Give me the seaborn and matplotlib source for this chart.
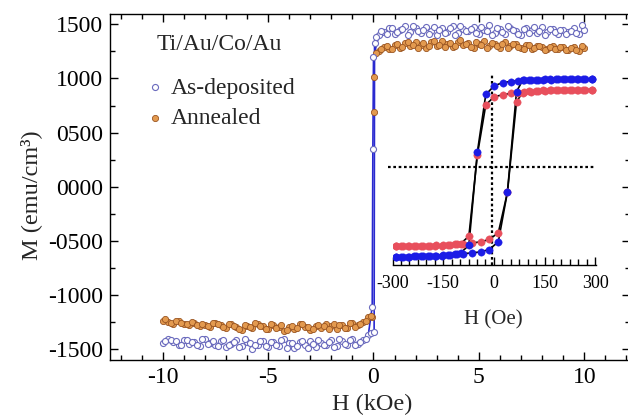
import matplotlib
matplotlib.use("Agg")
import matplotlib.pyplot as plt
from matplotlib.ticker import MultipleLocator, FuncFormatter
import pandas as pd
import seaborn as sns

# main loop, saturated branches (kOe), two passes per side
H_SAT_A = [0.25, 0.50, 0.75, 1.00, 1.25, 1.50, 1.75, 2.00, 2.25, 2.50,
           2.75, 3.00, 3.25, 3.50, 3.75, 4.00, 4.25, 4.50, 4.75, 5.00,
           5.25, 5.50, 5.75, 6.00, 6.25, 6.50, 6.75, 7.00, 7.25, 7.50,
           7.75, 8.00, 8.25, 8.50, 8.75, 9.00, 9.25, 9.50, 9.75, 10.00]
H_SAT_B = [0.12, 0.37, 0.62, 0.87, 1.12, 1.37, 1.62, 1.87, 2.12, 2.37,
           2.62, 2.87, 3.12, 3.37, 3.62, 3.87, 4.12, 4.37, 4.62, 4.87,
           5.12, 5.37, 5.62, 5.87, 6.12, 6.37, 6.62, 6.87, 7.12, 7.37,
           7.62, 7.87, 8.12, 8.37, 8.62, 8.87, 9.12, 9.37, 9.62, 9.87]

AD_POS_A = [1398, 1425, 1462, 1410, 1447, 1481, 1433, 1465, 1419, 1476,
            1441, 1402, 1468, 1430, 1485, 1417, 1459, 1437, 1472, 1408,
            1450, 1489, 1424, 1456, 1413, 1470, 1438, 1401, 1466, 1444,
            1420, 1478, 1432, 1461, 1407, 1452, 1426, 1469, 1415, 1446]
AD_POS_B = [1385, 1441, 1415, 1470, 1428, 1459, 1404, 1483, 1436, 1452,
            1412, 1475, 1447, 1421, 1463, 1399, 1480, 1434, 1455, 1416,
            1471, 1440, 1405, 1466, 1429, 1487, 1443, 1411, 1458, 1423,
            1474, 1436, 1403, 1461, 1427, 1449, 1414, 1435, 1421, 1492]
AD_NEG_A = [-1372, -1418, -1451, -1403, -1466, -1428, -1474, -1412, -1457, -1439,
            -1482, -1420, -1463, -1431, -1488, -1445, -1409, -1470, -1436, -1478,
            -1422, -1461, -1497, -1433, -1468, -1415, -1452, -1484, -1427, -1460,
            -1441, -1405, -1473, -1430, -1456, -1414, -1465, -1438, -1402, -1447]
AD_NEG_B = [-1355, -1402, -1436, -1462, -1419, -1448, -1407, -1476, -1430, -1465,
            -1411, -1454, -1486, -1425, -1469, -1440, -1493, -1417, -1458, -1434,
            -1472, -1421, -1463, -1444, -1409, -1479, -1432, -1457, -1415, -1470,
            -1426, -1451, -1404, -1466, -1437, -1418, -1459, -1428, -1412, -1420]

AN_POS_A = [1252, 1288, 1271, 1305, 1284, 1327, 1296, 1340, 1310, 1285,
            1336, 1302, 1348, 1315, 1291, 1339, 1306, 1329, 1281, 1322,
            1345, 1298, 1317, 1277, 1333, 1301, 1320, 1283, 1311, 1272,
            1304, 1290, 1268, 1299, 1276, 1292, 1262, 1287, 1258, 1281]
AN_POS_B = [1232, 1275, 1302, 1269, 1318, 1290, 1335, 1307, 1279, 1329,
            1298, 1344, 1312, 1286, 1331, 1303, 1352, 1319, 1294, 1338,
            1308, 1280, 1326, 1297, 1315, 1285, 1321, 1292, 1270, 1309,
            1282, 1300, 1263, 1295, 1273, 1289, 1266, 1284, 1260, 1296]
AN_NEG_A = [-1205, -1248, -1281, -1262, -1301, -1276, -1314, -1288, -1268, -1309,
            -1283, -1322, -1295, -1270, -1316, -1291, -1330, -1299, -1277, -1318,
            -1290, -1264, -1307, -1282, -1325, -1294, -1272, -1303, -1279, -1261,
            -1298, -1274, -1289, -1256, -1280, -1266, -1244, -1271, -1250, -1238]
AN_NEG_B = [-1190, -1236, -1270, -1292, -1258, -1305, -1281, -1267, -1312, -1289,
            -1274, -1318, -1296, -1263, -1308, -1285, -1321, -1279, -1302, -1271,
            -1315, -1287, -1260, -1299, -1276, -1311, -1284, -1265, -1293, -1272,
            -1254, -1286, -1263, -1278, -1248, -1269, -1257, -1240, -1262, -1222]

# points on the switching step near H = 0
AD_SW_DOWN_H = [0.0, -0.03, -0.06]
AD_SW_DOWN_M = [1194, 352, -1108]
AD_SW_UP_H = [0.03, 0.05]
AD_SW_UP_M = [-1340, 1330]
AN_SW_DOWN_H = [-0.06]
AN_SW_DOWN_M = [-1200]
AN_SW_UP_H = [0.03, 0.04]
AN_SW_UP_M = [694, 1009]

# inset loops (Oe)
IN_H_DOWN = [290, 270, 250, 230, 210, 190, 170, 150, 130, 110, 90, 70, 50, 26, 1,
             -24, -49, -74, -98, -115, -135, -155, -175, -195, -215, -235, -255, -275, -290]
IN_BLUE_DOWN = [1435, 1440, 1432, 1438, 1430, 1436, 1428, 1432, 1425, 1420, 1415, 1410, 1396, 1380, 1325,
                1185, 240, -1277, -1400, -1425, -1438, -1446, -1450, -1455, -1458, -1460, -1463, -1466, -1468]
IN_RED_DOWN = [1265, 1262, 1260, 1258, 1255, 1252, 1250, 1246, 1240, 1232, 1225, 1215, 1205, 1178, 1150,
               1015, 196, -1130, -1249, -1265, -1275, -1282, -1286, -1288, -1290, -1291, -1292, -1293, -1293]
IN_H_UP = [-290, -270, -250, -230, -210, -190, -170, -150, -130, -110, -90, -64, -39, -14, 13,
           40, 67, 85, 105, 125, 145, 165, 185, 205, 225, 245, 265, 290]
IN_BLUE_UP = [-1468, -1465, -1462, -1458, -1455, -1450, -1447, -1440, -1433, -1425, -1415, -1402, -1386, -1347, -1222,
              -410, 1233, 1415, 1420, 1425, 1428, 1432, 1434, 1436, 1438, 1440, 1438, 1442]
IN_RED_UP = [-1293, -1292, -1290, -1288, -1286, -1283, -1280, -1276, -1270, -1262, -1253, -1240, -1222, -1183, -1075,
             -415, 1069, 1216, 1235, 1245, 1250, 1255, 1258, 1260, 1262, 1263, 1262, 1265]

BLUE = "#1c1ce6"
RED = "#e84f5c"
AD_EDGE = "#6a6abd"
AN_FACE = "#e39a4f"
AN_EDGE = "#9a5522"


def build_passes(pos_a, pos_b, neg_a, neg_b, sw_down, sw_up):
    # descending pass: +10 -> -10, ascending pass: -10 -> +10
    down_h = H_SAT_A[::-1] + sw_down[0] + [-h for h in H_SAT_A]
    down_m = pos_a[::-1] + sw_down[1] + neg_a
    up_h = [-h for h in H_SAT_B[::-1]] + sw_up[0] + H_SAT_B
    up_m = neg_b[::-1] + sw_up[1] + pos_b
    return down_h, down_m, up_h, up_m


def y_fmt(v, _):
    v = int(round(v))
    return f"-{abs(v):04d}" if v < 0 else f"{v:04d}"


def main() -> None:
    sns.set_theme(style="ticks")
    plt.rcParams["font.family"] = ["Liberation Serif", "DejaVu Serif"]

    fig = plt.figure(figsize=(6.28, 4.16), dpi=100)
    ax = fig.add_axes([0.1752, 0.1346, 0.828, 0.8317])

    ad = build_passes(AD_POS_A, AD_POS_B, AD_NEG_A, AD_NEG_B,
                      (AD_SW_DOWN_H, AD_SW_DOWN_M), (AD_SW_UP_H, AD_SW_UP_M))
    an = build_passes(AN_POS_A, AN_POS_B, AN_NEG_A, AN_NEG_B,
                      (AN_SW_DOWN_H, AN_SW_DOWN_M), (AN_SW_UP_H, AN_SW_UP_M))

    df_ad = pd.DataFrame({"H": ad[0] + ad[2], "M": ad[1] + ad[3]})
    df_an = pd.DataFrame({"H": an[0] + an[2], "M": an[1] + an[3]})

    # blue line through the switching step only
    n = len(H_SAT_A)
    for hh, mm in [(ad[0], ad[1]), (ad[2], ad[3])]:
        ax.plot(hh[n - 2:len(hh) - n + 2], mm[n - 2:len(mm) - n + 2],
                color="#2a2ad0", lw=1.2, zorder=2)

    sns.scatterplot(data=df_an, x="H", y="M", ax=ax, s=20, marker="o",
                    color=AN_FACE, edgecolor=AN_EDGE, linewidth=0.6,
                    zorder=3, label="Annealed")
    sns.scatterplot(data=df_ad, x="H", y="M", ax=ax, s=19, marker="o",
                    facecolor="white", edgecolor=AD_EDGE, linewidth=0.8,
                    zorder=4, label="As-deposited")

    ax.set_xlim(-12.5, 12.17)
    ax.set_ylim(-1600, 1595)
    ax.xaxis.set_major_locator(MultipleLocator(5))
    ax.xaxis.set_minor_locator(MultipleLocator(1))
    ax.yaxis.set_major_locator(MultipleLocator(500))
    ax.yaxis.set_minor_locator(MultipleLocator(250))
    ax.yaxis.set_major_formatter(FuncFormatter(y_fmt))
    ax.xaxis.set_major_formatter(FuncFormatter(lambda v, _: f"{int(round(v))}"))
    ax.tick_params(which="both", direction="in", top=True, right=True,
                   width=1.0, labelsize=17, colors="black")
    ax.tick_params(which="major", length=6, pad=5)
    ax.tick_params(which="minor", length=3.5)
    for sp in ax.spines.values():
        sp.set_linewidth(1.0)
        sp.set_color("black")

    ax.set_xlabel("H (kOe)", fontsize=17.5)
    ax.set_ylabel("M (emu/cm³)", fontsize=17.5)
    ax.xaxis.set_label_coords(0.504, -0.098)
    ax.yaxis.set_label_coords(-0.13, 0.477)

    ax.text(0.09, 0.913, "Ti/Au/Co/Au", transform=ax.transAxes,
            fontsize=17, va="center", ha="left")
    handles, labels = ax.get_legend_handles_labels()
    order = [labels.index("As-deposited"), labels.index("Annealed")]
    ax.legend([handles[i] for i in order], [labels[i] for i in order],
              loc="upper left", bbox_to_anchor=(0.0728, 0.818),
              frameon=False, fontsize=17, borderpad=0, borderaxespad=0,
              handlelength=0.6, handletextpad=0.35, labelspacing=0.38,
              markerscale=1.0)

    # inset: low-field loops
    ins = fig.add_axes([0.625, 0.363, 0.324, 0.471])
    ins.patch.set_alpha(0)
    ins.plot([-6, -6], [-1600, 1500], color="black", lw=1.6, ls=(0, (1.2, 1.2)), zorder=1)
    ins.plot([-313, 295], [0, 0], color="black", lw=1.6, ls=(0, (1.2, 1.2)),
             zorder=1, clip_on=False)
    for h, m, c in [(IN_H_DOWN, IN_RED_DOWN, RED), (IN_H_UP, IN_RED_UP, RED),
                    (IN_H_DOWN, IN_BLUE_DOWN, BLUE), (IN_H_UP, IN_BLUE_UP, BLUE)]:
        ins.plot(h, m, color="black", lw=1.2, zorder=2)
        sns.scatterplot(x=h, y=m, ax=ins, s=28, color=c, edgecolor=c,
                        linewidth=0.3, zorder=3)
    ins.set_xlim(-300, 302)
    ins.set_ylim(-1600, 1600)
    for side in ["left", "right", "top"]:
        ins.spines[side].set_visible(False)
    ins.spines["bottom"].set_linewidth(1.0)
    ins.spines["bottom"].set_color("black")
    ins.set_yticks([])
    ins.xaxis.set_major_locator(MultipleLocator(150))
    ins.xaxis.set_minor_locator(MultipleLocator(25))
    ins.xaxis.set_major_formatter(FuncFormatter(lambda v, _: f"{int(round(v))}"))
    ins.tick_params(which="both", direction="in", width=1.0, labelsize=13, colors="black")
    ins.tick_params(which="major", length=6, pad=7)
    ins.tick_params(which="minor", length=4)
    ins.set_xlabel("H (Oe)", fontsize=15)
    ins.set_ylabel("")
    ins.xaxis.set_label_coords(0.494, -0.23)

    fig.savefig("out.png", dpi=100)
    plt.close(fig)


if __name__ == "__main__":
    main()
